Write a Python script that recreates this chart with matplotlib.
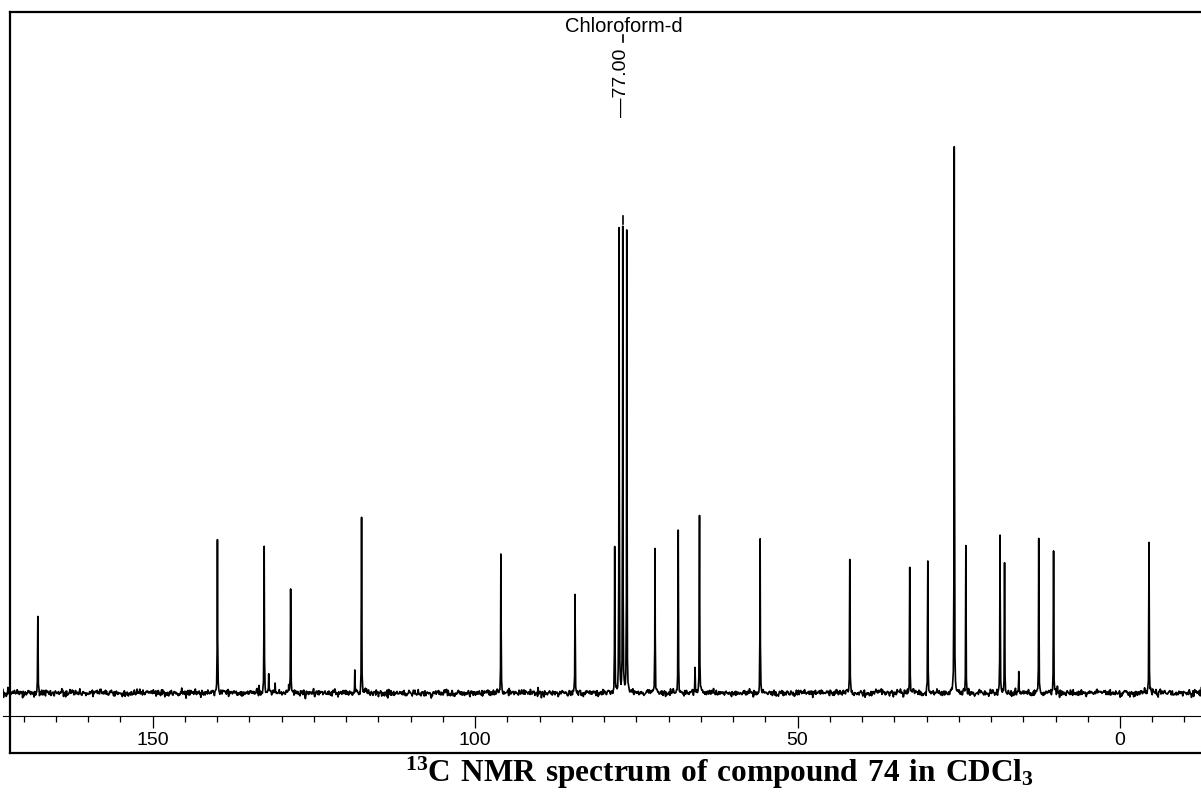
import numpy as np
import matplotlib
matplotlib.use("Agg")
import matplotlib.pyplot as plt
from matplotlib.lines import Line2D
from matplotlib.ticker import MultipleLocator

plt.rcParams['font.family'] = ['Liberation Sans', 'DejaVu Sans']
plt.rcParams['mathtext.fontset'] = 'custom'
plt.rcParams['mathtext.rm'] = 'Liberation Serif'
plt.rcParams['mathtext.bf'] = 'Liberation Serif:bold'

# peak list: shift (ppm) and height (px above baseline)
shifts = [167.8, 139.95, 133.5, 132.7, 132.0, 131.0, 128.9, 128.6, 118.65, 117.6,
          96.0, 84.5, 78.35, 77.67, 77.1, 76.48, 72.1, 68.5, 65.9, 65.2,
          55.8, 41.9, 32.6, 29.8, 25.7, 23.9, 18.6, 17.9, 15.7, 12.6, 10.3, -4.5]
heights = [80, 154, 7, 149, 16, 7, 8, 106, 23, 174,
           140, 97, 147, 461, 461, 459, 145, 163, 25, 180,
           154, 135, 125, 133, 547, 146, 160, 127, 19, 155, 143, 152]
major_ticks = [150, 100, 50, 0]
solvent_label = "Chloroform-d"
solvent_shift = "77.00"
caption = r"$\mathbf{{}^{13}C\ NMR\ spectrum\ of\ compound\ 74\ in\ CDCl_{3}}$"

W, H = 1201, 792
fig = plt.figure(figsize=(W / 100, H / 100), dpi=100)
ax = fig.add_axes([3 / W, (H - 716) / H, 1198 / W, (716 - 12) / H])

# spectrum: coarse grid plus the peak centres, lorentzian lines on a noisy baseline
x = np.concatenate([np.linspace(173.2, -12.6, 2200), np.array(shifts)])
x = np.sort(x)[::-1]
y = np.zeros_like(x)
hw = 0.03
for s, h in zip(shifts, heights):
    y += h / (1 + ((x - s) / hw) ** 2)
rng = np.random.default_rng(3)
y += rng.normal(0, 1.7, x.size)  # baseline noise texture
ax.plot(x, y, color='black', lw=1.2)

ax.set_xlim(173.2, -12.56)
ax.set_ylim(-23, 681)

for sp in ['left', 'right', 'top']:
    ax.spines[sp].set_visible(False)
ax.spines['bottom'].set_linewidth(0.8)
ax.set_yticks([])
ax.set_xticks(major_ticks)
ax.xaxis.set_minor_locator(MultipleLocator(5))
ax.tick_params(axis='x', which='major', direction='out', length=8.6, width=0.9,
               pad=3, labelsize=14)
ax.tick_params(axis='x', which='minor', direction='out', length=4.5, width=0.9)

# solvent annotation
ax.text(77.0, 661, solvent_label, ha='center', va='baseline', fontsize=14.5)
ax.plot([77.0, 77.0], [651, 658], color='black', lw=1.2)
ax.text(77.3, 610, "\u2014" + solvent_shift, rotation=90, ha='center', va='center',
        fontsize=14)
ax.plot([77.0, 77.0], [469, 477], color='black', lw=1.2)

# frame: left, top, bottom
fl = 10 / W
ft = 1 - 12 / H
fb = 1 - 753 / H
for xs, ys in [([fl, fl], [fb, ft]), ([fl, 1], [ft, ft]), ([fl, 1], [fb, fb])]:
    fig.add_artist(Line2D(xs, ys, color='black', lw=1.6, transform=fig.transFigure))

fig.text(719 / W, 10 / H, caption, ha='center', va='baseline', fontsize=22.5)

fig.savefig("out.png", dpi=100)
